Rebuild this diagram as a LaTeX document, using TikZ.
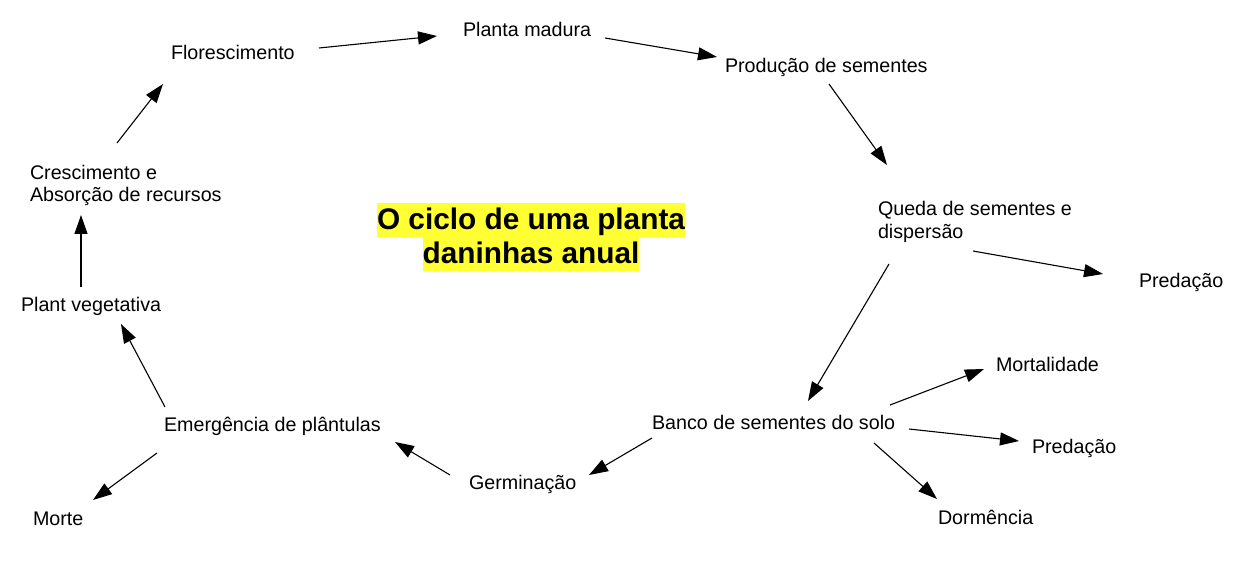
\documentclass[tikz,border=0pt]{standalone}
\usepackage{fontspec}
\setmainfont{Liberation Sans}
\usetikzlibrary{arrows.meta}
\definecolor{hly}{RGB}{255,255,51}
\newcommand{\hlbox}[1]{{\setlength{\fboxsep}{0pt}\colorbox{hly}{\rule[-7.5pt]{0pt}{34pt}#1}}}
\begin{document}
\begin{tikzpicture}[x=1pt,y=-1pt,
  lbl/.style={anchor=base west, inner sep=0pt, outer sep=0pt, font=\fontsize{19.7}{22}\selectfont, align=left},
  ttl/.style={anchor=north, inner sep=0pt, outer sep=0pt, font=\fontsize{29.8}{34}\selectfont\bfseries, align=center},
  arr/.style={-{Triangle[length=19pt,width=13pt]}, line width=1.1pt}]
\useasboundingbox (0,0) rectangle (1246,561);

\node[ttl] (title) at (531,202.5) {\hlbox{O ciclo de uma planta}\\\hlbox{daninhas anual}};

\node[lbl] (flor)  at (171,60)  {Florescimento};
\node[lbl] (mad)   at (463,37)  {Planta madura};
\node[lbl] (prod)  at (725,73)  {Produção de sementes};
\node[lbl] (queda) at (878,238) {Queda de sementes e\\dispersão};
\node[lbl] (pred1) at (1139,287) {Predação};
\node[lbl] (mort)  at (996,371) {Mortalidade};
\node[lbl] (banco) at (652,429) {Banco de sementes do solo};
\node[lbl] (pred2) at (1032,453) {Predação};
\node[lbl] (dorm)  at (938,524) {Dormência};
\node[lbl] (germ)  at (469,489) {Germinação};
\node[lbl] (emer)  at (164,431) {Emergência de plântulas};
\node[lbl] (morte) at (33,525)  {Morte};
\node[lbl] (veg)   at (21,311)  {Plant vegetativa};
\node[lbl] (cresc) at (30,202)  {Crescimento e\\Absorção de recursos};

\draw[arr] ([shift={(148,-12)}]flor.base west) -- ([shift={(-26,-1)}]mad.base west);
\draw[arr] ([shift={(142,1)}]mad.base west) -- ([shift={(-8,-16)}]prod.base west);
\draw[arr] ([shift={(104,11)}]prod.base west) -- ([shift={(9,-73)}]queda.base west);
\draw[arr] ([shift={(95,13)}]queda.base west) -- ([shift={(-36,-13)}]pred1.base west);
\draw[arr] ([shift={(11,26)}]queda.base west) -- ([shift={(156,-28)}]banco.base west);
\draw[arr] ([shift={(238,-24)}]banco.base west) -- ([shift={(-12,-2)}]mort.base west);
\draw[arr] ([shift={(257,0)}]banco.base west) -- ([shift={(-13,-12)}]pred2.base west);
\draw[arr] ([shift={(222,14)}]banco.base west) -- ([shift={(-1,-25)}]dorm.base west);
\draw[arr] ([shift={(0,9)}]banco.base west) -- ([shift={(120,-14)}]germ.base west);
\draw[arr] ([shift={(-19,-14)}]germ.base west) -- ([shift={(231,11)}]emer.base west);
\draw[arr] ([shift={(1,-24)}]emer.base west) -- ([shift={(100,13)}]veg.base west);
\draw[arr] ([shift={(-7,22)}]emer.base west) -- ([shift={(60,-25)}]morte.base west);
\draw[arr] ([shift={(60,-24)}]veg.base west) -- ([shift={(51,13)}]cresc.base west);
\draw[arr] ([shift={(87,-59)}]cresc.base west) -- ([shift={(-8,24)}]flor.base west);
\end{tikzpicture}
\end{document}
